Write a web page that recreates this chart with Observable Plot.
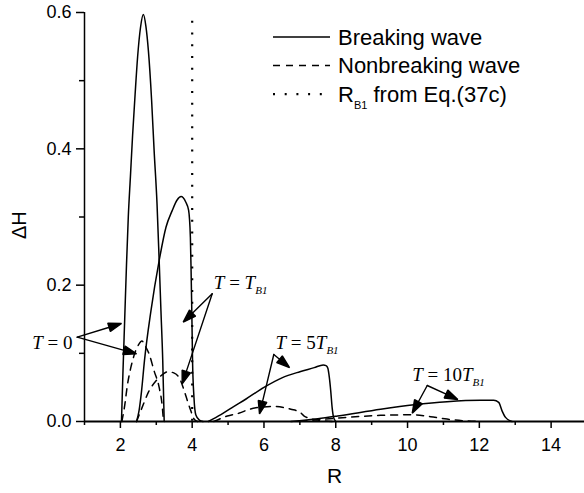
<!DOCTYPE html>
<html>
<head>
<meta charset="utf-8">
<script src="https://cdn.jsdelivr.net/npm/d3@7"></script>
<script src="https://cdn.jsdelivr.net/npm/@observablehq/plot@0.6"></script>
<style>
html, body { margin: 0; padding: 0; background: #fff; }
#wrap { position: relative; width: 584px; height: 493px; }
#wrap > svg { display: block; }
#legend { position: absolute; left: 0; top: 0; overflow: visible; }
</style>
</head>
<body>
<div id="wrap"></div>
<script>
// ---------------- data ----------------
// Breaking wave (solid), [R, ΔH]
const breakingT0 = [[2.03,0],[2.07,0.07],[2.12,0.15],[2.17,0.23],[2.22,0.30],[2.28,0.36],[2.34,0.42],[2.41,0.48],[2.48,0.535],[2.56,0.578],[2.64,0.597],[2.71,0.58],[2.78,0.544],[2.87,0.471],[2.94,0.397],[3.02,0.32],[3.08,0.236],[3.13,0.162],[3.18,0.089],[3.22,0]];
const breakingTB1 = [[2.45,0],[2.52,0.016],[2.59,0.045],[2.67,0.089],[2.85,0.162],[3.08,0.236],[3.27,0.285],[3.44,0.309],[3.58,0.325],[3.69,0.330],[3.82,0.322],[3.9,0.31],[3.95,0.27],[3.97,0.22],[3.99,0.16],[4.01,0.09],[4.05,0.035],[4.1,0.01],[4.2,0.002],[4.3,0]];
const breakingT5 = [[4.45,0],[4.8,0.01],[5.1,0.02],[5.5,0.033],[6.0,0.05],[6.5,0.064],[7.0,0.073],[7.4,0.079],[7.65,0.083],[7.73,0.082],[7.78,0.078],[7.82,0.065],[7.86,0.045],[7.9,0.02],[7.94,0.006],[8.0,0]];
const breakingT10 = [[6.75,0],[7.5,0.004],[8.05,0.008],[9.25,0.018],[10.18,0.0245],[11.1,0.029],[12.03,0.031],[12.4,0.031],[12.54,0.028],[12.63,0.016],[12.73,0.006],[12.91,0]];
// Nonbreaking wave (dashed), [R, ΔH]
const nonbreakingT0 = [[2.04,0],[2.11,0.02],[2.2,0.055],[2.29,0.079],[2.4,0.1],[2.5,0.112],[2.6,0.118],[2.7,0.11],[2.8,0.099],[2.94,0.074],[3.08,0.05],[3.17,0.02],[3.2,0]];
const nonbreakingTB1 = [[2.45,0],[2.6,0.02],[2.8,0.045],[3.0,0.06],[3.2,0.07],[3.32,0.073],[3.5,0.071],[3.65,0.063],[3.78,0.045],[3.87,0.03],[3.96,0.016],[4.06,0.003],[4.15,0]];
const nonbreakingT5 = [[4.6,0],[4.98,0.008],[5.35,0.013],[5.54,0.017],[5.91,0.021],[6.28,0.022],[6.75,0.018],[7.02,0.013],[7.12,0.008],[7.5,0.002],[7.9,0]];
const nonbreakingT10 = [[7.0,0],[8.05,0.005],[9.25,0.009],[9.71,0.0097],[10.18,0.0098],[10.64,0.007],[11.1,0.0035],[11.57,0.001],[12.0,0]];
// R_B1 from Eq.(37c)
const rB1 = 4.0;
const rB1Top = 0.587;

// axes
const xMajorTicks = [2, 4, 6, 8, 10, 12, 14];
const xMinorTicks = [1, 3, 5, 7, 9, 11, 13];
const yMajorTicks = [0, 0.2, 0.4, 0.6];
const yMinorTicks = [0.1, 0.3, 0.5];
const xDomain = [1, 14.93];
const yDomain = [0, 0.6];
const xLabel = "R";
const yLabel = "ΔH";

// legend
const legendLabels = ["Breaking wave", "Nonbreaking wave", "R_B1 from Eq.(37c)"];

// annotations (data coordinates)
const annotLabels = ["T = 0", "T = T_B1", "T = 5T_B1", "T = 10T_B1"];
const annotR = [-0.457, 4.603, 6.322, 10.13];
const annotH = [0.107, 0.195, 0.1066, 0.0601];
const arrowFromR = [0.797, 0.797, 4.558, 4.558, 6.274, 6.274, 10.549, 10.549];
const arrowFromH = [0.1237, 0.1237, 0.1873, 0.1873, 0.0983, 0.0983, 0.0528, 0.0528];
const arrowToR = [2.031, 2.449, 3.750, 3.722, 6.712, 5.876, 11.401, 10.131];
const arrowToH = [0.1438, 0.0993, 0.1457, 0.0553, 0.0792, 0.011, 0.0323, 0.0122];

// ---------------- build tables ----------------
const toRows = (pairs, series) => pairs.map(([R, H]) => ({R, H, series}));
const breakingRows = [
  ...toRows(breakingT0, "T0"), ...toRows(breakingTB1, "TB1"),
  ...toRows(breakingT5, "T5"), ...toRows(breakingT10, "T10")
];
const nonbreakingRows = [
  ...toRows(nonbreakingT0, "T0"), ...toRows(nonbreakingTB1, "TB1"),
  ...toRows(nonbreakingT5, "T5"), ...toRows(nonbreakingT10, "T10")
];
const annotRows = annotLabels.map((t, i) => ({t, R: annotR[i], H: annotH[i]}));
const arrowRows = arrowFromR.map((r, i) => ({x1: r, y1: arrowFromH[i], x2: arrowToR[i], y2: arrowToH[i]}));

const sans = "'Liberation Sans', Arial, Helvetica, sans-serif";
const serif = "'Liberation Serif', 'Times New Roman', serif";

const chart = Plot.plot({
  width: 584,
  height: 493,
  marginLeft: 84,
  marginRight: 0,
  marginTop: 12,
  marginBottom: 72,
  x: {domain: xDomain},
  y: {domain: yDomain},
  style: {fontFamily: sans, fontSize: "18px", color: "black", background: "white", overflow: "visible"},
  marks: [
    // axis lines
    Plot.ruleY([0], {x1: xDomain[0], x2: xDomain[1], stroke: "black", strokeWidth: 2}),
    Plot.ruleX([xDomain[0]], {y1: yDomain[0], y2: yDomain[1], stroke: "black", strokeWidth: 1.5}),
    Plot.axisX({ticks: xMajorTicks, tickSize: 7, tickPadding: 10, tickFormat: d => String(d), fontSize: 18, strokeWidth: 1.5, label: null}),
    Plot.axisX({ticks: xMinorTicks, tickSize: 4, tickFormat: () => "", strokeWidth: 1.5, label: null}),
    Plot.axisY({ticks: yMajorTicks, tickSize: 8, tickPadding: 5, tickFormat: d3.format(".1f"), fontSize: 18, strokeWidth: 1.5, label: null}),
    Plot.axisY({ticks: yMinorTicks, tickSize: 5, tickFormat: () => "", strokeWidth: 1.5, label: null}),
    // axis titles
    Plot.text([yLabel], {frameAnchor: "left", rotate: -90, dx: -65, dy: 22, fontSize: 20, fontFamily: sans}),
    Plot.text([xLabel], {frameAnchor: "bottom", dy: 61, fontSize: 21, fontFamily: sans}),
    // data
    Plot.ruleX([rB1], {y1: rB1Top, y2: 0, stroke: "black", strokeWidth: 2.2, strokeDasharray: "2,9.7"}),
    Plot.line(breakingRows, {x: "R", y: "H", z: "series", stroke: "black", strokeWidth: 1.5, curve: "monotone-x"}),
    Plot.line(nonbreakingRows, {x: "R", y: "H", z: "series", stroke: "black", strokeWidth: 1.5, strokeDasharray: "7,6", curve: "monotone-x"}),
    // annotations
    Plot.arrow(arrowRows, {x1: "x1", y1: "y1", x2: "x2", y2: "y2", headLength: 0, stroke: "black", strokeWidth: 1.4}),
    Plot.text(annotRows, {x: "R", y: "H", text: "t", textAnchor: "start", lineAnchor: "bottom", fontSize: 19, fontFamily: serif})
  ]
});

document.getElementById("wrap").appendChild(chart);
const svg = d3.select(chart);

// filled arrowheads
svg.selectAll('g[aria-label="arrow"] path').each(function () {
  const nums = (this.getAttribute("d") || "").match(/-?\d*\.?\d+(?:e[-+]?\d+)?/gi);
  if (!nums || nums.length < 4) return;
  const [x1, y1, x2, y2] = nums.slice(0, 4).map(Number);
  const len = Math.hypot(x2 - x1, y2 - y1);
  const ux = (x2 - x1) / len, uy = (y2 - y1) / len;
  const L = 13, hw = 4.4;
  const bx = x2 - L * ux, by = y2 - L * uy;
  const px = -uy, py = ux;
  const d = `M${x1},${y1}L${bx + ux * 2},${by + uy * 2}` +
    `M${x2},${y2}L${bx + hw * px},${by + hw * py}L${bx - hw * px},${by - hw * py}Z`;
  d3.select(this).attr("d", d).attr("fill", "black").attr("stroke-linejoin", "miter");
});

// rich text for annotations: italic letters, upright digits/=, subscript
function fillRich(textEl, label, subSize, subDy) {
  const [main, sub] = label.split("_");
  const sel = d3.select(textEl);
  sel.text(null);
  const runs = main.match(/[A-Za-z]+|[^A-Za-z]+/g) || [];
  runs.forEach(r => {
    const ts = sel.append("tspan").text(r);
    if (/[A-Za-z]/.test(r)) ts.attr("font-style", "italic");
  });
  if (sub) {
    sel.append("tspan").text(sub).attr("font-size", subSize).attr("dy", subDy).attr("font-style", "italic");
  }
}
const textGroups = svg.selectAll('g[aria-label="text"]').nodes();
const annotGroup = textGroups[textGroups.length - 1];
d3.select(annotGroup).selectAll("text").each(function (d, i) {
  fillRich(this, annotLabels[i], "11px", "5");
}).style("white-space", "pre");

// legend overlay
const legendStyles = [
  {dash: null, width: 1.5},
  {dash: "7,6", width: 1.5},
  {dash: "2,9.7", width: 2.2}
];
const legendX0 = 273, legendX1 = 330, legendTextX = 338, legendY0 = 37, legendDY = 28.6;
const leg = d3.select("#wrap").append("svg").attr("id", "legend").attr("width", 584).attr("height", 130);
legendLabels.forEach((lab, i) => {
  const y = legendY0 + i * legendDY;
  const st = legendStyles[i];
  const ln = leg.append("line").attr("x1", legendX0).attr("x2", legendX1).attr("y1", y).attr("y2", y)
    .attr("stroke", "black").attr("stroke-width", st.width);
  if (st.dash) ln.attr("stroke-dasharray", st.dash);
  const t = leg.append("text").attr("x", legendTextX).attr("y", y + 7.6)
    .attr("font-family", sans).attr("font-size", 22).attr("fill", "black");
  if (lab.includes("_")) {
    const [a, rest] = lab.split("_");
    const sub = rest.slice(0, 2), tail = rest.slice(2);
    t.append("tspan").text(a);
    t.append("tspan").text(sub).attr("font-size", 11).attr("dy", 7);
    t.append("tspan").text(tail).attr("dy", -7);
  } else {
    t.text(lab);
  }
});
</script>
</body>
</html>
